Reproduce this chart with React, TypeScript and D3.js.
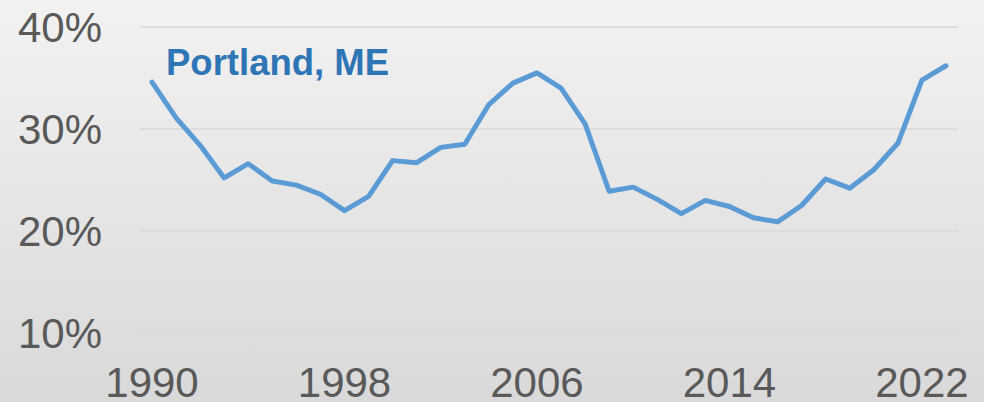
import React, { useEffect, useRef } from 'react'
import * as d3 from 'd3'

const years = d3.range(1990, 2024).map(String)
const shares = [
  34.6, 31.1, 28.4, 25.2, 26.6, 24.9, 24.5, 23.6, 22.0, 23.4, 26.9, 26.7, 28.2, 28.5,
  32.4, 34.5, 35.5, 34.0, 30.5, 23.9, 24.3, 23.1, 21.7, 23.0, 22.4, 21.3, 20.9, 22.5,
  25.1, 24.2, 26.0, 28.6, 34.8, 36.2,
]
const yTicks = [10, 20, 30, 40]
const xLabels = ['1990', '1998', '2006', '2014', '2022']
const title = 'Portland, ME'

const W = 984
const H = 402

export default function App() {
  const ref = useRef<SVGSVGElement>(null)

  useEffect(() => {
    const svg = d3.select(ref.current)
    svg.selectAll('*').remove()

    const defs = svg.append('defs')
    const grad = defs
      .append('linearGradient')
      .attr('id', 'bg')
      .attr('x1', 0)
      .attr('y1', 0)
      .attr('x2', 0)
      .attr('y2', 1)
    grad.append('stop').attr('offset', '0%').attr('stop-color', '#f2f2f2')
    grad.append('stop').attr('offset', '100%').attr('stop-color', '#d9d9d9')

    svg.append('rect').attr('width', W).attr('height', H).attr('fill', 'url(#bg)')

    const x = d3.scaleBand().domain(years).range([140, 958])
    const y = d3.scaleLinear().domain([10, 40]).range([333, 27])

    // horizontal gridlines
    svg
      .append('g')
      .selectAll('line')
      .data(yTicks)
      .join('line')
      .attr('x1', 140)
      .attr('x2', 958)
      .attr('y1', (d) => y(d))
      .attr('y2', (d) => y(d))
      .attr('stroke', '#d9d9d9')
      .attr('stroke-width', 1.5)

    svg
      .append('g')
      .selectAll('text')
      .data(yTicks)
      .join('text')
      .attr('x', 102)
      .attr('y', (d) => y(d))
      .attr('dy', '0.36em')
      .attr('text-anchor', 'end')
      .attr('fill', '#595959')
      .style('font', '42px "Liberation Sans", Arial, sans-serif')
      .text((d) => `${d}%`)

    svg
      .append('g')
      .selectAll('text')
      .data(xLabels)
      .join('text')
      .attr('x', (d) => (x(d) as number) + x.bandwidth() / 2)
      .attr('y', 397)
      .attr('text-anchor', 'middle')
      .attr('fill', '#595959')
      .style('font', '42px "Liberation Sans", Arial, sans-serif')
      .text((d) => d)

    const line = d3
      .line<number>()
      .x((_, i) => (x(years[i]) as number) + x.bandwidth() / 2)
      .y((d) => y(d))

    svg
      .append('path')
      .datum(shares)
      .attr('d', line)
      .attr('fill', 'none')
      .attr('stroke', '#5b9bd5')
      .attr('stroke-width', 5)
      .attr('stroke-linecap', 'round')
      .attr('stroke-linejoin', 'round')

    svg
      .append('text')
      .attr('x', 166)
      .attr('y', 75)
      .attr('fill', '#2e75b6')
      .style('font', 'bold 36.5px "Liberation Sans", Arial, sans-serif')
      .text(title)
  }, [])

  return (
    <svg
      ref={ref}
      width={W}
      height={H}
      style={{ position: 'absolute', left: 0, top: 0, display: 'block' }}
    />
  )
}
